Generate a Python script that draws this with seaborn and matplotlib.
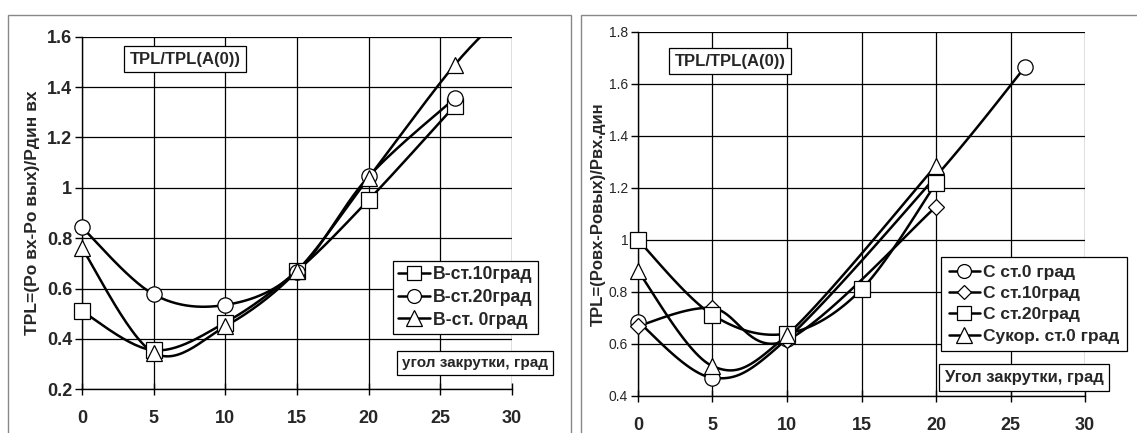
import numpy as np
import pandas as pd
import matplotlib
matplotlib.use("Agg")
import matplotlib.pyplot as plt
import seaborn as sns
from matplotlib.lines import Line2D
from matplotlib.patches import Rectangle

sns.set_theme(style="white")
plt.rcParams['font.family'] = ['Liberation Sans', 'DejaVu Sans']

# ---------------- data ----------------
# left panel
left_labels = ["В-ст.10град", "В-ст.20град", "В-ст. 0град"]
left_x_sq = [0, 5, 10, 15, 20, 26]
left_y_sq = [0.51, 0.355, 0.465, 0.67, 0.952, 1.325]
left_x_ci = [0, 5, 10, 15, 20, 26]
left_y_ci = [0.843, 0.577, 0.535, 0.667, 1.045, 1.355]
left_x_tr = [0, 5, 10, 15, 20, 26, 30]
left_y_tr = [0.76, 0.345, 0.45, 0.67, 1.04, 1.488, 1.72]

# right panel
right_labels = ["С ст.0 град", "С ст.10град", "С ст.20град", "Сукор. ст.0 град"]
right_x_ci = [0, 5, 10, 20, 26]
right_y_ci = [0.686, 0.47, 0.62, 1.245, 1.667]
right_x_di = [0, 5, 10, 20]
right_y_di = [0.669, 0.738, 0.615, 1.128]
right_x_sq = [0, 5, 10, 15, 20]
right_y_sq = [1.0, 0.712, 0.64, 0.81, 1.218]
right_x_tr = [0, 5, 10, 20]
right_y_tr = [0.88, 0.515, 0.635, 1.286]

x_ticks = [0, 5, 10, 15, 20, 25, 30]
left_y_ticks = [0.2, 0.4, 0.6, 0.8, 1.0, 1.2, 1.4, 1.6]
left_y_ticklabels = ["0.2", "0.4", "0.6", "0.8", "1", "1.2", "1.4", "1.6"]
right_y_ticks = [0.4, 0.6, 0.8, 1.0, 1.2, 1.4, 1.6, 1.8]
right_y_ticklabels = ["0.4", "0.6", "0.8", "1", "1.2", "1.4", "1.6", "1.8"]

left_ylabel = "TPL=(Po вх-Po вых)/Pдин вх"
right_ylabel = "TPL=(Poвх-Poвых)/Pвх.дин"
box_title = "TPL/TPL(A(0))"
left_xnote = "угол закрутки, град"
right_xnote = "Угол закрутки, град"


def smooth(x, y, n=30):
    pts = np.column_stack([np.asarray(x, float), np.asarray(y, float)])
    P = np.vstack([pts[0], pts, pts[-1]])
    out = []
    t = np.linspace(0, 1, n)[:, None]
    for i in range(1, len(P) - 2):
        p0, p1, p2, p3 = P[i - 1], P[i], P[i + 1], P[i + 2]
        c1 = p1 + (p2 - p0) / 6
        c2 = p2 - (p3 - p1) / 6
        seg = (1 - t) ** 3 * p1 + 3 * (1 - t) ** 2 * t * c1 + 3 * (1 - t) * t ** 2 * c2 + t ** 3 * p2
        out.append(seg if i == 1 else seg[1:])
    s = np.vstack(out)
    return pd.DataFrame({"x": s[:, 0], "y": s[:, 1], "o": np.arange(len(s))})


def draw_series(ax, x, y, marker, ms, ylim):
    df = smooth(x, y)
    sns.lineplot(data=df, x="x", y="y", sort=False, estimator=None, ax=ax,
                 color="black", linewidth=1.8, zorder=3)
    xs = np.asarray(x, float)
    ys = np.asarray(y, float)
    keep = (ys >= ylim[0]) & (ys <= ylim[1])
    ax.plot(xs[keep], ys[keep], linestyle="none", marker=marker, markersize=ms,
            markerfacecolor="white", markeredgecolor="black",
            markeredgewidth=0.9, zorder=4, clip_on=False)


fig = plt.figure(figsize=(11.37, 4.33), dpi=100)

# panel frames
fig.patches.append(Rectangle((8 / 1137, -0.1), (571 - 8) / 1137, 1.1 - 15 / 433,
                             transform=fig.transFigure, fill=False,
                             edgecolor="#888888", linewidth=1.0))
fig.patches.append(Rectangle((581 / 1137, -0.1), (1140 - 581) / 1137, 1.1 - 15 / 433,
                             transform=fig.transFigure, fill=False,
                             edgecolor="#888888", linewidth=1.0))

axL = fig.add_axes([0.0721, 0.1009, 0.4503 - 0.0721, 0.9152 - 0.1009])
axR = fig.add_axes([0.5611, 0.0855, 0.9543 - 0.5611, 0.9261 - 0.0855])

limL = (0.2, 1.6)
limR = (0.4, 1.8)
draw_series(axL, left_x_sq, left_y_sq, "s", 11, limL)
draw_series(axL, left_x_ci, left_y_ci, "o", 11, limL)
draw_series(axL, left_x_tr, left_y_tr, "^", 12, limL)

draw_series(axR, right_x_ci, right_y_ci, "o", 11, limR)
draw_series(axR, right_x_di, right_y_di, "D", 8, limR)
draw_series(axR, right_x_sq, right_y_sq, "s", 11, limR)
draw_series(axR, right_x_tr, right_y_tr, "^", 12, limR)

for ax, yt, ytl, ylim in [(axL, left_y_ticks, left_y_ticklabels, limL),
                          (axR, right_y_ticks, right_y_ticklabels, limR)]:
    ax.set_xlim(0, 30)
    ax.set_ylim(*ylim)
    ax.set_xticks(x_ticks)
    ax.set_yticks(yt)
    ax.set_yticklabels(ytl)
    ax.grid(True, color="black", linewidth=0.9)
    ax.set_axisbelow(True)
    for s in ["top", "right"]:
        ax.spines[s].set_visible(False)
    for s in ["left", "bottom"]:
        ax.spines[s].set_color("black")
        ax.spines[s].set_linewidth(1.0)
    ax.tick_params(axis="y", direction="out", length=5, width=1, color="black",
                   left=True, pad=2)
    ax.tick_params(axis="x", direction="inout", length=8, width=1, color="black",
                   bottom=True, pad=11)
    ax.set_xlabel("")

for lbl in axL.get_xticklabels() + axL.get_yticklabels():
    lbl.set_fontsize(13)
    lbl.set_fontweight("bold")
for lbl in axR.get_xticklabels():
    lbl.set_fontsize(13)
    lbl.set_fontweight("bold")
for lbl in axR.get_yticklabels():
    lbl.set_fontsize(10)

axL.set_ylabel(left_ylabel, fontsize=12.5, fontweight="bold", labelpad=5)
axR.set_ylabel(right_ylabel, fontsize=12, fontweight="bold", labelpad=2)

bbox = dict(boxstyle="square,pad=0.35", facecolor="white", edgecolor="black", linewidth=0.9)
fig.text(0.1627, 0.8637, box_title, fontsize=12, fontweight="bold", ha="center", va="center", bbox=bbox)
fig.text(0.6420, 0.8590, box_title, fontsize=12, fontweight="bold", ha="center", va="center", bbox=bbox)
fig.text(0.4178, 0.1617, left_xnote, fontsize=11, fontweight="bold", ha="center", va="center", bbox=bbox)
fig.text(0.9006, 0.1280, right_xnote, fontsize=12, fontweight="bold", ha="center", va="center", bbox=bbox)


def handle(marker, ms):
    return Line2D([0], [0], color="black", linewidth=1.8, marker=marker, markersize=ms,
                  markerfacecolor="white", markeredgecolor="black", markeredgewidth=0.9)


legL = axL.legend([handle("s", 10), handle("o", 10), handle("^", 11)], left_labels,
                  loc="upper left", bbox_to_anchor=(0.3456, 0.3972), bbox_transform=fig.transFigure,
                  frameon=True, fancybox=False, framealpha=1, edgecolor="black",
                  prop={"weight": "bold", "size": 12.7}, handlelength=1.8,
                  handletextpad=0.15, labelspacing=0.32, borderpad=0.3, borderaxespad=0)
legL.get_frame().set_linewidth(0.9)

legR = axR.legend([handle("o", 10), handle("D", 7), handle("s", 10), handle("^", 11)], right_labels,
                  loc="upper left", bbox_to_anchor=(0.8276, 0.4065), bbox_transform=fig.transFigure,
                  frameon=True, fancybox=False, framealpha=1, edgecolor="black",
                  prop={"weight": "bold", "size": 12.5}, handlelength=1.8,
                  handletextpad=0.15, labelspacing=0.35, borderpad=0.45, borderaxespad=0)
legR.get_frame().set_linewidth(0.9)

fig.savefig("out.png", dpi=100)
